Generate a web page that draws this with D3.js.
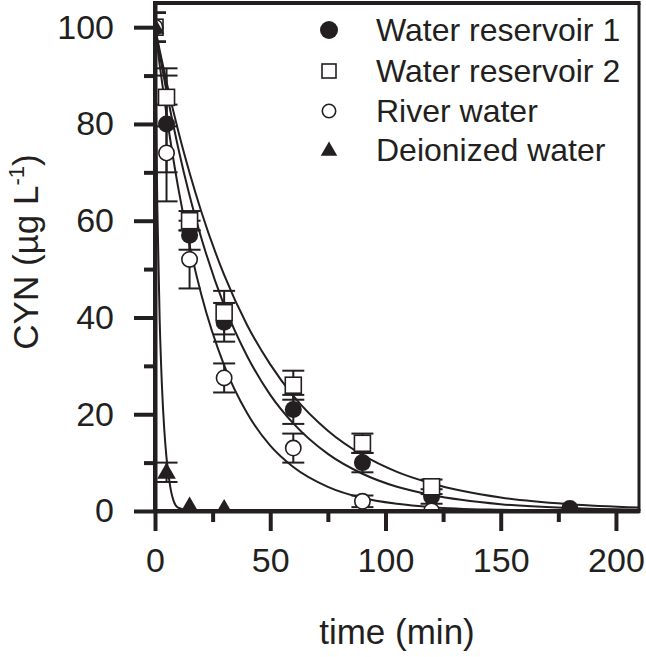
<!DOCTYPE html>
<html>
<head>
<meta charset="utf-8">
<script src="https://cdn.jsdelivr.net/npm/d3@7"></script>
<style>
  body { margin: 0; background: #fff; }
  svg text { font-family: "Liberation Sans", Arial, sans-serif; fill: #231f20; }
</style>
</head>
<body>
<div id="chart"></div>
<script>
/* DATA */
const seriesNames = ['Water reservoir 1', 'Water reservoir 2', 'River water', 'Deionized water'];

const res1Time = [0, 5, 15, 30, 60, 90, 120, 180];
const res1Value = [100, 80, 57, 39, 21, 10, 3, 0.5];
const res1Err = [3, 10, 3, 4, 3, 2, 1.5, 0];

const res2Time = [0, 5, 15, 30, 60, 90, 120];
const res2Value = [100, 85.5, 60, 41, 26, 14, 5];
const res2Err = [3, 6, 2, 4.5, 3, 2, 1.5];

const riverTime = [0, 5, 15, 30, 60, 90, 120];
const riverValue = [100, 74, 52, 27.5, 13, 2, 0];
const riverErr = [3, 10, 6, 3, 3, 1.2, 0];

const deionTime = [0, 5, 15, 30];
const deionValue = [100, 8, 1, 0.5];
const deionErr = [3, 2, 0, 0];

// fitted decay curves
const fitTime = [0, 2, 5, 10, 15, 20, 30, 40, 50, 60, 75, 90, 105, 120, 150, 180, 210];
const fitRes2 = [100, 95.3, 88.7, 78.7, 69.9, 62.0, 48.8, 38.4, 30.3, 23.8, 16.6, 11.6, 8.1, 5.7, 2.8, 1.4, 0.7];
const fitRes1 = [100, 94.5, 86.7, 75.2, 65.2, 56.6, 42.5, 32.0, 24.0, 18.1, 11.8, 7.7, 5.0, 3.3, 1.4, 0.6, 0.25];
const fitRiver = [100, 92.3, 81.9, 67.0, 54.9, 44.9, 30.1, 20.2, 13.5, 9.1, 5.0, 2.7, 1.5, 0.8, 0.25, 0.07, 0.02];
const fitDeionTime = [0, 1, 2, 3, 4, 5, 6, 7, 8, 10, 15, 20, 210];
const fitDeion = [100, 63, 40, 26, 17, 11, 7, 4, 2.2, 0.7, 0.1, 0, 0];

const xTicks = [0, 50, 100, 150, 200];
const yTicks = [0, 20, 40, 60, 80, 100];

/* LAYOUT */
const W = 646, H = 657;
const plotL = 155, plotR = 639, plotT = 3, plotB = 511;
const ink = '#231f20';

const svg = d3.select('#chart').append('svg')
  .attr('width', W)
  .attr('height', H);

const x = d3.scaleLinear().domain([0, 210]).range([plotL, plotR]);
const y = d3.scaleLinear().domain([0, 105]).range([plotB, plotT]);

svg.append('clipPath').attr('id', 'plotclip')
  .append('rect')
  .attr('x', plotL).attr('y', plotT)
  .attr('width', plotR - plotL).attr('height', plotB - plotT);

const plot = svg.append('g').attr('clip-path', 'url(#plotclip)');

// curves
const line = d3.line()
  .x(d => x(d[0]))
  .y(d => y(d[1]))
  .curve(d3.curveMonotoneX);

[[fitTime, fitRes2], [fitTime, fitRes1], [fitTime, fitRiver], [fitDeionTime, fitDeion]].forEach(([t, v]) => {
  plot.append('path')
    .datum(t.map((d, i) => [d, v[i]]))
    .attr('d', line)
    .attr('fill', 'none')
    .attr('stroke', ink)
    .attr('stroke-width', 2);
});

const series = [
  { t: res1Time, v: res1Value, e: res1Err, shape: 'fcircle' },
  { t: res2Time, v: res2Value, e: res2Err, shape: 'square' },
  { t: riverTime, v: riverValue, e: riverErr, shape: 'ocircle' },
  { t: deionTime, v: deionValue, e: deionErr, shape: 'triangle' }
];

// error bars
const capW = 11;
series.forEach(s => {
  const pts = s.t.map((d, i) => ({ t: d, v: s.v[i], e: s.e[i] })).filter(d => d.e > 0);
  const g = plot.append('g').attr('stroke', ink).attr('stroke-width', 2);
  pts.forEach(d => {
    g.append('line').attr('x1', x(d.t)).attr('x2', x(d.t))
      .attr('y1', y(d.v - d.e)).attr('y2', y(d.v + d.e));
    [d.v - d.e, d.v + d.e].forEach(c => {
      g.append('line').attr('x1', x(d.t) - capW).attr('x2', x(d.t) + capW)
        .attr('y1', y(c)).attr('y2', y(c));
    });
  });
});

function drawMarker(g, shape, cx, cy, size) {
  if (shape === 'fcircle') {
    g.append('circle').attr('cx', cx).attr('cy', cy).attr('r', size)
      .attr('fill', ink);
  } else if (shape === 'ocircle') {
    g.append('circle').attr('cx', cx).attr('cy', cy).attr('r', size - 0.8)
      .attr('fill', '#fff').attr('stroke', ink).attr('stroke-width', 1.6);
  } else if (shape === 'square') {
    const a = size - 0.5;
    g.append('rect').attr('x', cx - a).attr('y', cy - a)
      .attr('width', 2 * a).attr('height', 2 * a)
      .attr('fill', '#fff').attr('stroke', ink).attr('stroke-width', 1.6);
  } else {
    const h = size * 1.9, b = size * 1.1;
    g.append('path')
      .attr('d', `M${cx},${cy - h * 0.6}L${cx + b},${cy + h * 0.4}L${cx - b},${cy + h * 0.4}Z`)
      .attr('fill', ink);
  }
}

// markers
series.forEach(s => {
  const g = plot.append('g');
  s.t.forEach((d, i) => drawMarker(g, s.shape, x(d), y(s.v[i]), 8.5));
});

/* AXES */
const yAxis = svg.append('g')
  .attr('transform', `translate(${plotL},0)`)
  .call(d3.axisLeft(y).tickValues(yTicks).tickSize(21).tickSizeOuter(0).tickPadding(20));
yAxis.append('g').call(d3.axisLeft(y).tickValues([10, 30, 50, 70, 90]).tickSize(11).tickFormat(''))
  .select('.domain').remove();

const xAxis = svg.append('g')
  .attr('transform', `translate(0,${plotB})`)
  .call(d3.axisBottom(x).tickValues(xTicks).tickSize(20).tickSizeOuter(0).tickPadding(17));
xAxis.append('g').call(d3.axisBottom(x).tickValues([25, 75, 125, 175]).tickSize(11).tickFormat(''))
  .select('.domain').remove();

svg.selectAll('.domain').attr('stroke', ink).attr('stroke-width', 4);
svg.selectAll('.tick line').attr('stroke', ink).attr('stroke-width', 4);
svg.selectAll('.tick text').attr('font-size', 34).attr('fill', ink)
  .style('font-family', '"Liberation Sans", Arial, sans-serif');

// frame
svg.append('line').attr('x1', plotL - 2).attr('x2', plotR + 1.5)
  .attr('y1', plotT).attr('y2', plotT).attr('stroke', ink).attr('stroke-width', 4);
svg.append('line').attr('x1', plotR).attr('x2', plotR)
  .attr('y1', plotT).attr('y2', plotB).attr('stroke', ink).attr('stroke-width', 3);
svg.append('line').attr('x1', plotL - 2).attr('x2', plotR + 1.5)
  .attr('y1', plotB).attr('y2', plotB).attr('stroke', ink).attr('stroke-width', 4);
svg.append('line').attr('x1', plotL).attr('x2', plotL)
  .attr('y1', plotT - 2).attr('y2', plotB + 2).attr('stroke', ink).attr('stroke-width', 4);

// axis titles
svg.append('text')
  .attr('x', 397).attr('y', 644)
  .attr('text-anchor', 'middle').attr('font-size', 35)
  .text('time (min)');

const yt = svg.append('text')
  .attr('transform', `translate(38,${252}) rotate(-90)`)
  .attr('text-anchor', 'middle').attr('font-size', 35);
yt.append('tspan').text('CYN (\u00b5g L');
yt.append('tspan').attr('font-size', 22).attr('dy', -14).text('-1');
yt.append('tspan').attr('dy', 14).text(')');

/* LEGEND */
const legendY = [30, 71, 111, 150];
const legend = svg.append('g');
seriesNames.forEach((name, i) => {
  drawMarker(legend, series[i].shape, 329, legendY[i], i === 0 ? 9 : 7.5);
  legend.append('text')
    .attr('x', 376).attr('y', legendY[i] + 11)
    .attr('font-size', 32)
    .text(name);
});
</script>
</body>
</html>
